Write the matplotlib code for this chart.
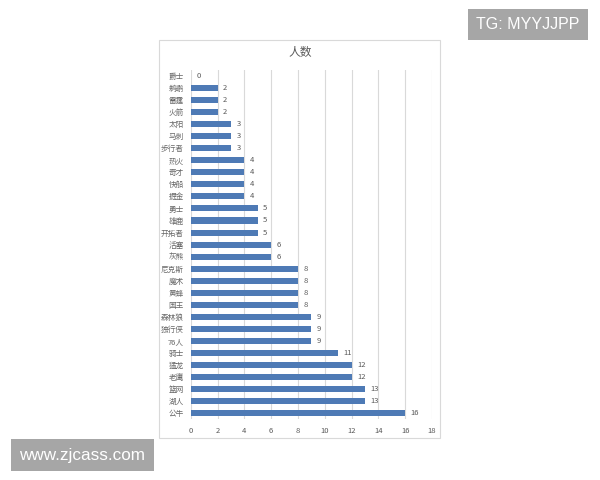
import matplotlib.pyplot as plt
from matplotlib.patches import Rectangle

plt.rcParams['font.family'] = ['Noto Sans CJK SC', 'DejaVu Sans']

# teams listed top to bottom as in the chart
teams = ["爵士", "鹈鹕", "雷霆", "火箭", "太阳", "马刺", "步行者", "热火", "奇才", "快船",
         "掘金", "勇士", "雄鹿", "开拓者", "活塞", "灰熊", "尼克斯", "魔术", "黄蜂", "国王",
         "森林狼", "独行侠", "76人", "骑士", "猛龙", "老鹰", "篮网", "湖人", "公牛"]
counts = [0, 2, 2, 2, 3, 3, 3, 4, 4, 4,
          4, 5, 5, 5, 6, 6, 8, 8, 8, 8,
          9, 9, 9, 11, 12, 12, 13, 13, 16]
xticks = [0, 2, 4, 6, 8, 10, 12, 14, 16, 18]

fig = plt.figure(figsize=(6, 4.8), dpi=100)

# chart frame, kept behind the axes
frame = Rectangle((0.265, 0.0875), 0.468, 0.829, transform=fig.transFigure,
                  facecolor='white', edgecolor='#d9d9d9', linewidth=0.8, zorder=-5)
fig.patches.append(frame)

ax = fig.add_axes([0.318, 0.127, 0.402, 0.727])
ax.set_zorder(2)
ax.set_facecolor('none')
pos = list(range(len(teams)))
ax.barh(pos, counts, height=0.5, color='#4E7AB5', zorder=3)
for p, v in zip(pos, counts):
    ax.text(v + 0.4, p, str(v), va='center', ha='left', fontsize=5.5, color='#595959')

ax.set_yticks(pos)
ax.set_yticklabels(teams, fontsize=5.5, color='#666666')
ax.set_ylim(len(teams) - 0.5, -0.5)
ax.set_xlim(0, 18)
ax.set_xticks(xticks)
ax.set_xticklabels([str(x) for x in xticks], fontsize=5.5, color='#595959')
ax.tick_params(axis='y', length=0, pad=5)
ax.tick_params(axis='x', length=0, pad=6)
ax.grid(axis='x', color='#d9d9d9', linewidth=0.8, zorder=0)
for s in ax.spines.values():
    s.set_visible(False)

fig.text(0.5, 0.89, "人数", ha='center', va='center', fontsize=8.5, color='#595959')

# watermarks
wm = dict(ha='center', va='center', color='white', family='Liberation Sans',
          bbox=dict(boxstyle='square,pad=0.5', facecolor='#a6a6a6', edgecolor='none'))
fig.text(0.880, 0.948, "TG: MYYJJPP", fontsize=11.5, **wm)
fig.text(0.137, 0.052, "www.zjcass.com", fontsize=12.3, **wm)

fig.savefig('out.png', dpi=100)
